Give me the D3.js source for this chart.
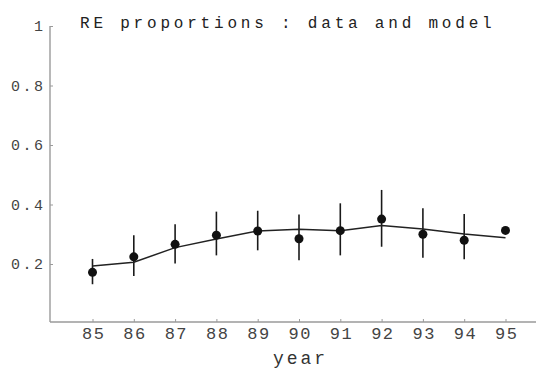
<!DOCTYPE html>
<html>
<head>
<meta charset="utf-8">
<script src="https://cdn.jsdelivr.net/npm/d3@7"></script>
<style>
  body { margin: 0; background: #fff; }
  svg { display: block; font-family: "Liberation Mono", "DejaVu Sans Mono", monospace; }
</style>
</head>
<body>
<svg width="536" height="371"></svg>
<script>
// data
var years = [85, 86, 87, 88, 89, 90, 91, 92, 93, 94, 95];
var observed = [0.172, 0.224, 0.266, 0.297, 0.311, 0.285, 0.312, 0.351, 0.300, 0.280, 0.313];
var upper = [0.217, 0.297, 0.334, 0.376, 0.379, 0.366, 0.404, 0.449, 0.387, 0.368, null];
var lower = [0.132, 0.160, 0.202, 0.229, 0.246, 0.213, 0.229, 0.258, 0.221, 0.216, null];
var model = [0.193, 0.206, 0.255, 0.284, 0.311, 0.317, 0.312, 0.329, 0.318, 0.301, 0.288];
var yTicks = [0.2, 0.4, 0.6, 0.8, 1];

var svg = d3.select("svg"),
    width = +svg.attr("width"),
    height = +svg.attr("height");

var x = d3.scaleLinear().domain([85, 95]).range([92.5, 505.5]);
var y = d3.scaleLinear().domain([0, 1]).range([323.5, 26]);
var axisX = 50, axisY = 322;

// y axis, ticks pointing inward like the original
var gy = svg.append("g")
    .attr("transform", "translate(" + axisX + ",0)")
    .call(d3.axisLeft(y).tickValues(yTicks).tickFormat(d3.format("")).tickSizeInner(-3).tickSizeOuter(0).tickPadding(7));
gy.select(".domain").attr("stroke", "#9a9a9a").attr("stroke-width", 1.4)
    .attr("d", "M0," + y(1) + "V" + axisY);
gy.selectAll(".tick line").attr("stroke", "#9a9a9a");
gy.selectAll(".tick text")
    .attr("font-size", 15)
    .attr("fill", "#444")
    .attr("letter-spacing", 2.5)
    .attr("dx", 2.5)
    .attr("font-family", "Liberation Mono");

// x axis
var gx = svg.append("g")
    .attr("transform", "translate(0," + axisY + ")")
    .call(d3.axisBottom(x).tickValues(years).tickFormat(d3.format("")).tickSizeInner(-3).tickSizeOuter(0).tickPadding(5));
gx.select(".domain").attr("stroke", "#9a9a9a").attr("stroke-width", 1.4)
    .attr("d", "M" + axisX + ",0H" + width);
gx.selectAll(".tick line").attr("stroke", "#9a9a9a");
gx.selectAll(".tick text")
    .attr("font-size", 17)
    .attr("fill", "#444")
    .attr("letter-spacing", 1.5)
    .attr("dx", 0.75)
    .attr("font-family", "Liberation Mono");

var rows = years.map(function(d, i) {
  return { year: d, obs: observed[i], hi: upper[i], lo: lower[i], fit: model[i] };
});

// error bars
svg.append("g").selectAll("line")
    .data(rows.filter(function(d) { return d.hi != null; }))
    .enter().append("line")
    .attr("x1", function(d) { return x(d.year); })
    .attr("x2", function(d) { return x(d.year); })
    .attr("y1", function(d) { return y(d.hi); })
    .attr("y2", function(d) { return y(d.lo); })
    .attr("stroke", "#1a1a1a")
    .attr("stroke-width", 1.6);

// model line
var line = d3.line()
    .x(function(d) { return x(d.year); })
    .y(function(d) { return y(d.fit); });

svg.append("path")
    .datum(rows)
    .attr("d", line)
    .attr("fill", "none")
    .attr("stroke", "#222")
    .attr("stroke-width", 1.5);

// observed points
svg.append("g").selectAll("circle")
    .data(rows)
    .enter().append("circle")
    .attr("cx", function(d) { return x(d.year); })
    .attr("cy", function(d) { return y(d.obs); })
    .attr("r", 4.5)
    .attr("fill", "#111");

// title and axis label
svg.append("text")
    .attr("x", 80)
    .attr("y", 28)
    .attr("font-size", 16)
    .attr("letter-spacing", 3.8)
    .attr("fill", "#222")
    .text("RE proportions : data and model");

svg.append("text")
    .attr("x", (x.range()[0] + x.range()[1]) / 2 + 1.5)
    .attr("y", 364)
    .attr("text-anchor", "middle")
    .attr("font-size", 18)
    .attr("letter-spacing", 3)
    .attr("fill", "#333")
    .text("year");
</script>
</body>
</html>
